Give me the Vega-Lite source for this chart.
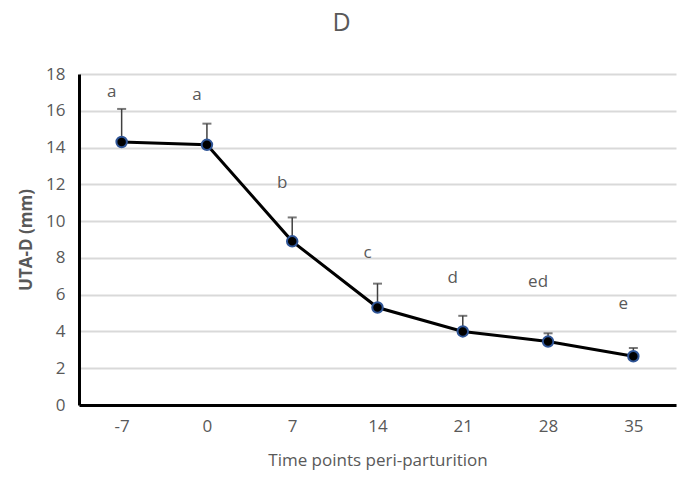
{
  "$schema": "https://vega.github.io/schema/vega-lite/v6.json",
  "width": 597,
  "height": 331,
  "autosize": {"type": "none"},
  "padding": {"left": 79, "top": 74, "right": 2, "bottom": 76},
  "background": "white",
  "title": {"text": "D", "fontSize": 25, "font": "Open Sans", "fontWeight": "normal", "color": "#595959", "anchor": "middle", "dx": -36, "offset": 29},
  "data": {"values": [
    {"t": "-7", "mean": 14.3, "top": 16.1, "letter": "a", "ly": 17.0},
    {"t": "0", "mean": 14.15, "top": 15.3, "letter": "a", "ly": 16.85},
    {"t": "7", "mean": 8.9, "top": 10.2, "letter": "b", "ly": 12.05},
    {"t": "14", "mean": 5.3, "top": 6.6, "letter": "c", "ly": 8.25},
    {"t": "21", "mean": 4.0, "top": 4.85, "letter": "d", "ly": 6.9},
    {"t": "28", "mean": 3.45, "top": 3.9, "letter": "ed", "ly": 6.7},
    {"t": "35", "mean": 2.65, "top": 3.1, "letter": "e", "ly": 5.5}
  ]},
  "encoding": {
    "x": {"field": "t", "type": "ordinal", "sort": null,
      "scale": {"type": "point", "padding": 0.5},
      "axis": {"title": "Time points peri-parturition", "labelAngle": 0, "labelFontSize": 17, "labelColor": "#595959", "labelFont": "Open Sans", "labelPadding": 13, "ticks": false, "domainColor": "#000000", "domainWidth": 3, "titleFont": "Open Sans", "titleFontSize": 17, "titleFontWeight": "normal", "titleColor": "#595959", "titlePadding": 18}}
  },
  "layer": [
    {
      "mark": {"type": "rule", "color": "#404040", "strokeWidth": 1.5},
      "encoding": {
        "y": {"field": "mean", "type": "quantitative", "scale": {"domain": [0, 18]},
          "axis": {"title": "UTA-D (mm)", "values": [0, 2, 4, 6, 8, 10, 12, 14, 16, 18], "labelOverlap": false}},
        "y2": {"field": "top"}
      }
    },
    {
      "mark": {"type": "tick", "color": "#404040", "size": 9, "thickness": 2, "orient": "horizontal"},
      "encoding": {"y": {"field": "top", "type": "quantitative",
          "axis": {"title": "UTA-D (mm)", "values": [0, 2, 4, 6, 8, 10, 12, 14, 16, 18], "labelOverlap": false}}}
    },
    {
      "mark": {"type": "line", "color": "#000000", "strokeWidth": 3},
      "encoding": {"y": {"field": "mean", "type": "quantitative",
          "axis": {"title": "UTA-D (mm)", "values": [0, 2, 4, 6, 8, 10, 12, 14, 16, 18], "labelOverlap": false}}}
    },
    {
      "mark": {"type": "point", "filled": true, "fill": "#000000", "stroke": "#2f5597", "strokeWidth": 2, "size": 110, "opacity": 1},
      "encoding": {"y": {"field": "mean", "type": "quantitative",
          "axis": {"title": "UTA-D (mm)", "values": [0, 2, 4, 6, 8, 10, 12, 14, 16, 18], "labelOverlap": false}}}
    },
    {
      "mark": {"type": "text", "font": "Open Sans", "fontSize": 17, "color": "#595959", "dx": -10, "baseline": "middle"},
      "encoding": {"y": {"field": "ly", "type": "quantitative",
          "axis": {"title": "UTA-D (mm)", "values": [0, 2, 4, 6, 8, 10, 12, 14, 16, 18], "labelOverlap": false}},
        "text": {"field": "letter"}}
    }
  ],
  "config": {
    "view": {"stroke": null},
    "axisY": {"labelFontSize": 17, "labelColor": "#595959", "labelFont": "Open Sans", "labelPadding": 14, "ticks": false, "domainColor": "#000000", "domainWidth": 3, "gridColor": "#d9d9d9", "gridWidth": 2, "titleFont": "Open Sans", "titleFontSize": 17, "titleFontWeight": "bold", "titleColor": "#595959", "titlePadding": 10}
  }
}
